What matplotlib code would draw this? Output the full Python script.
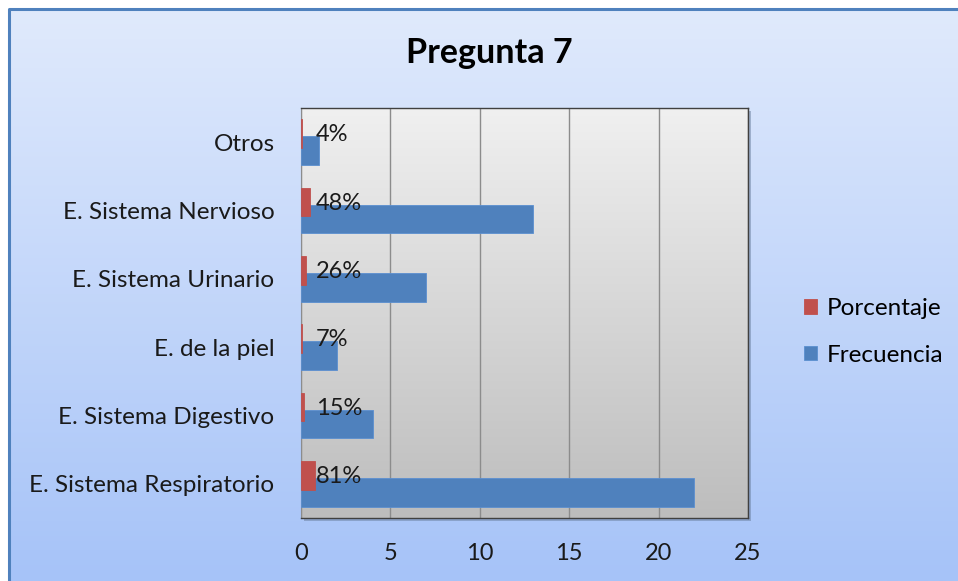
"""Pregunta 7 - horizontal bar chart (Frecuencia / Porcentaje)."""

import matplotlib
matplotlib.use("Agg")
import matplotlib.pyplot as plt
import numpy as np
from matplotlib.patches import Rectangle

categories = [
    "E. Sistema Respiratorio",
    "E. Sistema Digestivo",
    "E. de la piel",
    "E. Sistema Urinario",
    "E. Sistema Nervioso",
    "Otros",
]
frecuencia = [22, 4, 2, 7, 13, 1]
porcentaje = [0.81, 0.15, 0.07, 0.26, 0.48, 0.04]
pct_labels = ["81%", "15%", "7%", "26%", "48%", "4%"]
x_ticks = [0, 5, 10, 15, 20, 25]

FONT = ["Lato", "DejaVu Sans"]
plt.rcParams["font.family"] = FONT

W, H = 958, 581
fig = plt.figure(figsize=(W / 100, H / 100), dpi=100)
fig.patch.set_facecolor("white")

# background frame with vertical gradient
bg = fig.add_axes([0, 0, 1, 1], zorder=-10)
bg.set_xlim(0, W)
bg.set_ylim(H, 0)
bg.axis("off")
grad = np.linspace(0, 1, 256).reshape(-1, 1)
top_c = np.array([0xe0, 0xea, 0xfc]) / 255
bot_c = np.array([0xa6, 0xc3, 0xf8]) / 255
img = top_c + grad[..., None] * (bot_c - top_c)
bg.imshow(img, extent=(9, W, H, 8), aspect="auto", zorder=0)
bg.plot([9, 9, W], [H, 9, 9], color="#4f81bd", lw=2.2, zorder=2)

# plot area
x0, x1, y0, y1 = 301, 748, 108, 518
bg.add_patch(Rectangle((x0 + 3, y0 + 3), x1 - x0, y1 - y0,
                       facecolor="#6a7f9e", alpha=0.5, lw=0, zorder=1))

ax = fig.add_axes([x0 / W, 1 - y1 / H, (x1 - x0) / W, (y1 - y0) / H])
pa_top = np.array([0xf0, 0xf0, 0xf0]) / 255
pa_bot = np.array([0xbd, 0xbd, 0xbd]) / 255
ax.imshow(pa_top + grad[..., None] * (pa_bot - pa_top), extent=(0, 1, 0, 1),
          transform=ax.transAxes, aspect="auto", zorder=0)

y = np.arange(len(categories))
h = 0.42
off = 0.125
ax.barh(y - off, frecuencia, height=h, color="#4f81bd", edgecolor="#5b8fd0",
        lw=0.6, zorder=3, label="Frecuencia")
ax.barh(y + off, porcentaje, height=h, color="#c0504d", edgecolor="#c0504d",
        lw=0.6, zorder=3, label="Porcentaje")

for yi, lab in zip(y, pct_labels):
    ax.text(0.85, yi + off - 0.02, lab, ha="left", va="center",
            fontsize=17, color="#1a1a1a", zorder=4)

ax.set_xlim(0, 25)
ax.set_ylim(-0.5, len(categories) - 0.5)
ax.set_xticks(x_ticks)
ax.set_xticklabels([str(t) for t in x_ticks], fontsize=17)
ax.set_yticks(y)
ax.set_yticklabels(categories, fontsize=17.5)
ax.tick_params(axis="both", length=0, colors="#1a1a1a")
ax.tick_params(axis="y", pad=19)
ax.tick_params(axis="x", pad=18)
ax.grid(axis="x", color="#8c8c8c", lw=1.0, zorder=1)
ax.set_axisbelow(True)
for side in ["top", "right", "bottom"]:
    ax.spines[side].set_color("#404040")
    ax.spines[side].set_linewidth(1.0)
ax.spines["left"].set_color("#8c8c8c")

handles, labels = ax.get_legend_handles_labels()
fig.legend(handles[::-1], labels[::-1], loc="center left",
           bbox_to_anchor=(782 / W, 1 - 332 / H), frameon=False,
           fontsize=17.5, handlelength=0.55, handleheight=0.55,
           handletextpad=0.4, labelspacing=1.05)

fig.text(489 / W, 1 - 53 / H, "Pregunta 7", ha="center", va="center",
         fontsize=24.5, fontweight="bold", color="black")

fig.savefig("out.png", dpi=100)
